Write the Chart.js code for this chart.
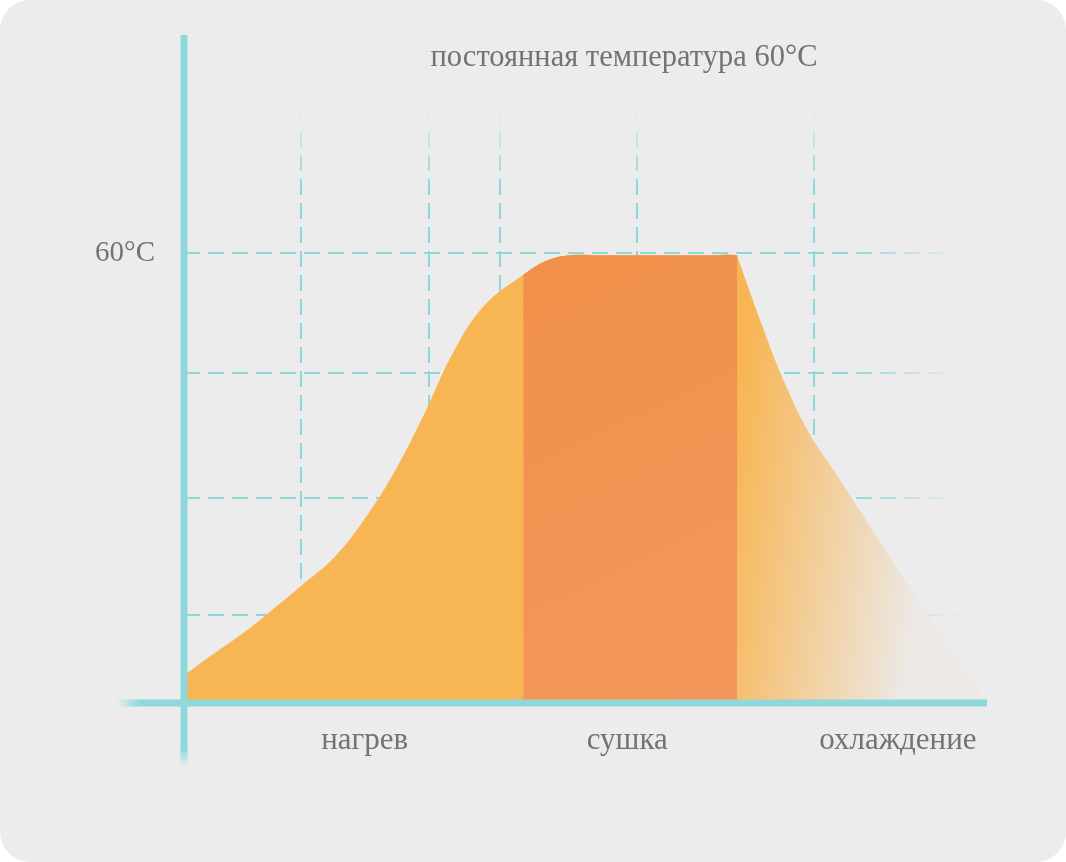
<!DOCTYPE html>
<html>
<head>
<meta charset="utf-8">
<script src="https://cdn.jsdelivr.net/npm/chart.js@4/dist/chart.umd.min.js"></script>
<style>
html, body { margin: 0; padding: 0; background: #fff; }
#card { width: 1066px; height: 862px; background: #ececec; border-radius: 30px; overflow: hidden; }
canvas { display: block; }
</style>
</head>
<body>
<div id="card"><canvas id="chart"></canvas></div>
<script>
// drying cycle profile, x in % of cycle, y in °C
const timeX = [0, 3.74, 7.47, 11.2, 14.9, 18.7, 22.4, 26.2, 29.9, 33.6, 37.4, 42.25, 45.2, 48.1,
               51.8, 56.8, 61.8, 65.5, 68.87, 68.99, 71.8, 74.8, 77.9, 81.1, 84.2, 87.9, 91.7, 95.4, 100];
const tempY = [3.7, 6.6, 9.4, 12.6, 15.9, 19.4, 24.4, 30.8, 38.5, 46.9, 53.0, 57.1, 59.0, 59.7,
               59.7, 59.7, 59.7, 59.7, 59.7, 59.3, 50.9, 42.7, 35.9, 30.7, 25.6, 19.5, 13.3, 7.3, 0];

const phaseBounds = [42.25, 68.87];        // start / end of "сушка"
const phaseNames = ['нагрев', 'сушка', 'охлаждение'];
const phaseLabelX = [22.5, 55.2, 88.9];

const gridX = [14.6, 30.5, 39.4, 56.4, 78.5];
const gridY = [11.7, 27.3, 44, 60];
const yMax = 89.07;

const axisColor = '#8ed8dc';
const textColor = '#737373';
const serif = '"Liberation Serif", "DejaVu Serif", serif';

function warmFill(ctx) {
  const chart = ctx.chart;
  if (!chart.chartArea) return '#f8b553';
  const { x, y } = chart.scales;
  const px = x.getPixelForValue(phaseBounds[1]);
  const g = chart.ctx.createLinearGradient(px, y.getPixelForValue(40.4), px + 205, y.getPixelForValue(36.7));
  g.addColorStop(0, '#f8b553');
  g.addColorStop(1, '#ece9e6');
  return g;
}

let dryGrad = null;
function dryFill(ctx) {
  const x0 = timeX[ctx.p0DataIndex];
  if (x0 < phaseBounds[0] || x0 >= phaseBounds[1]) return 'rgba(240,145,74,0)';
  const chart = ctx.chart;
  const { x, y } = chart.scales;
  const l = x.getPixelForValue(phaseBounds[0]), r = x.getPixelForValue(phaseBounds[1]);
  const key = l + ',' + r + ',' + y.top;
  if (!dryGrad || dryGrad.key !== key) {
    const g = chart.ctx.createLinearGradient(l, y.getPixelForValue(60), r, y.getPixelForValue(0));
    g.addColorStop(0, '#f0904a');
    g.addColorStop(1, '#f3975a');
    dryGrad = { key: key, g: g };
  }
  return dryGrad.g;
}

function vGridColor(ctx) {
  const a = ctx.chart.chartArea;
  if (!a) return axisColor;
  const g = ctx.chart.ctx.createLinearGradient(0, a.top + 75, 0, a.top + 150);
  g.addColorStop(0, 'rgba(142,216,220,0)');
  g.addColorStop(1, 'rgba(142,216,220,1)');
  return g;
}

function hGridColor(ctx) {
  const a = ctx.chart.chartArea;
  if (!a) return axisColor;
  const g = ctx.chart.ctx.createLinearGradient(a.right - 140, 0, a.right - 25, 0);
  g.addColorStop(0, 'rgba(142,216,220,1)');
  g.addColorStop(1, 'rgba(142,216,220,0)');
  return g;
}

const axesLines = {
  id: 'axesLines',
  afterDraw(chart) {
    const { ctx, chartArea: a } = chart;
    ctx.save();
    ctx.lineWidth = 7;
    let g = ctx.createLinearGradient(0, a.bottom + 46, 0, a.bottom + 64);
    g.addColorStop(0, axisColor);
    g.addColorStop(1, 'rgba(142,216,220,0)');
    ctx.strokeStyle = g;
    ctx.beginPath();
    ctx.moveTo(a.left, a.top);
    ctx.lineTo(a.left, a.bottom + 64);
    ctx.stroke();
    g = ctx.createLinearGradient(a.left - 67, 0, a.left - 44, 0);
    g.addColorStop(0, 'rgba(142,216,220,0)');
    g.addColorStop(1, axisColor);
    ctx.strokeStyle = g;
    ctx.beginPath();
    ctx.moveTo(a.left - 67, a.bottom);
    ctx.lineTo(a.right, a.bottom);
    ctx.stroke();
    // title
    ctx.fillStyle = textColor;
    ctx.font = '30.5px ' + serif;
    ctx.textAlign = 'center';
    ctx.textBaseline = 'alphabetic';
    ctx.fillText('постоянная температура 60°C', 624, 66);
    ctx.restore();
  }
};

const points = timeX.map((x, i) => ({ x: x, y: tempY[i] }));

new Chart(document.getElementById('chart'), {
  type: 'line',
  data: {
    datasets: [{
      // сушка overlay
      data: points,
      fill: 'origin',
      backgroundColor: 'rgba(240,145,74,0)',
      borderColor: 'transparent',
      borderWidth: 0,
      pointRadius: 0,
      tension: 0.4,
      segment: { backgroundColor: dryFill }
    }, {
      data: points,
      fill: 'origin',
      backgroundColor: warmFill,
      borderColor: 'transparent',
      borderWidth: 0,
      pointRadius: 0,
      tension: 0.4
    }]
  },
  options: {
    responsive: true,
    maintainAspectRatio: false,
    animation: false,
    layout: { padding: { left: 0, right: 79, top: 35, bottom: 99 } },
    plugins: { legend: { display: false }, tooltip: { enabled: false } },
    scales: {
      x: {
        type: 'linear', min: 0, max: 100, z: 1,
        afterBuildTicks: s => { s.ticks = gridX.map(v => ({ value: v })); },
        afterFit: s => { s.height = 0; s.paddingLeft = 0; s.paddingRight = 0; },
        ticks: { display: false },
        grid: { color: vGridColor, lineWidth: 2, drawTicks: false },
        border: { display: false, dash: [16, 8] }
      },
      x2: {
        type: 'linear', position: 'bottom', min: 0, max: 100,
        afterBuildTicks: s => { s.ticks = phaseLabelX.map(v => ({ value: v })); },
        afterFit: s => { s.height = 60; s.paddingLeft = 0; s.paddingRight = 0; },
        ticks: {
          autoSkip: false, maxRotation: 0, padding: 11,
          color: textColor, font: { family: serif, size: 31 },
          callback: (v, i) => phaseNames[i]
        },
        grid: { display: false },
        border: { display: false }
      },
      y: {
        min: 0, max: yMax, z: 1,
        afterBuildTicks: s => { s.ticks = gridY.map(v => ({ value: v })); },
        afterFit: s => { s.width = 184; s.paddingTop = 0; s.paddingBottom = 0; },
        ticks: {
          padding: 29, color: textColor, font: { family: serif, size: 29 },
          callback: v => v === 60 ? '60°C' : ''
        },
        grid: { color: hGridColor, lineWidth: 2, drawTicks: false },
        border: { display: false, dash: [16, 8] }
      }
    }
  },
  plugins: [axesLines]
});
</script>
</body>
</html>
